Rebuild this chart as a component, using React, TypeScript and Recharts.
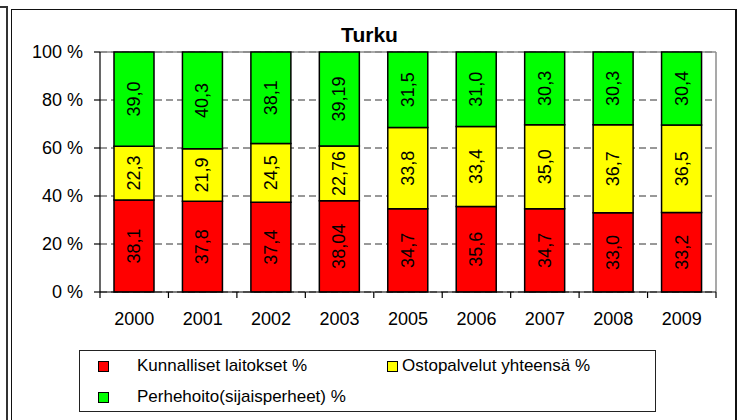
import { Bar, BarChart, CartesianGrid, LabelList, Legend, XAxis, YAxis, usePlotArea } from 'recharts';

const years = ['2000', '2001', '2002', '2003', '2005', '2006', '2007', '2008', '2009'];
const kunnalliset = ['38,1', '37,8', '37,4', '38,04', '34,7', '35,6', '34,7', '33,0', '33,2'];
const ostopalvelut = ['22,3', '21,9', '24,5', '22,76', '33,8', '33,4', '35,0', '36,7', '36,5'];
const perhehoito = ['39,0', '40,3', '38,1', '39,19', '31,5', '31,0', '30,3', '30,3', '30,4'];
const yTicks = [0, 20, 40, 60, 80, 100];

const series = [
  { key: 'kunnalliset', name: 'Kunnalliset laitokset %', color: '#ff0000' },
  { key: 'ostopalvelut', name: 'Ostopalvelut yhteensä %', color: '#ffff00' },
  { key: 'perhehoito', name: 'Perhehoito(sijaisperheet) %', color: '#00ff00' },
];

const num = (s: string) => parseFloat(s.replace(',', '.'));

const data = years.map((year, i) => ({
  year,
  kunnalliset: num(kunnalliset[i]),
  ostopalvelut: num(ostopalvelut[i]),
  perhehoito: num(perhehoito[i]),
  kunnallisetLabel: kunnalliset[i],
  ostopalvelutLabel: ostopalvelut[i],
  perhehoitoLabel: perhehoito[i],
}));

const FONT = '"Liberation Sans", Arial, sans-serif';

function VerticalLabel(props: any) {
  const { x, y, width, height, value } = props;
  const cx = x + width / 2;
  const cy = y + height / 2;
  return (
    <text
      x={cx}
      y={cy}
      transform={`rotate(-90 ${cx} ${cy})`}
      textAnchor="middle"
      dominantBaseline="central"
      fontSize={18}
      fontFamily={FONT}
      fill="#000"
    >
      {value}
    </text>
  );
}

// plot frame (grey top/right edges) and the category boundary ticks
function PlotFrame() {
  const area = usePlotArea();
  if (!area) return null;
  const { x, y, width, height } = area;
  const band = width / years.length;
  const bottom = y + height;
  return (
    <g>
      <line x1={x} y1={y} x2={x + width} y2={y} stroke="#8c8c8c" strokeWidth={1.5} />
      <line x1={x + width} y1={y} x2={x + width} y2={bottom} stroke="#8c8c8c" strokeWidth={1.5} />
      {[...years, ''].map((_, i) => (
        <line key={i} x1={x + band * i} y1={bottom} x2={x + band * i} y2={bottom + 6} stroke="#000" strokeWidth={1.2} />
      ))}
    </g>
  );
}

function LegendBox() {
  const item = (s: typeof series[number], left: number, top: number, textLeft: number) => (
    <div key={s.key} style={{ position: 'absolute', left, top, display: 'flex', alignItems: 'center' }}>
      <span style={{ display: 'inline-block', width: 9, height: 9, background: s.color, border: '1.5px solid #000' }} />
      <span style={{ marginLeft: textLeft, fontSize: 17, fontFamily: FONT, color: '#000', whiteSpace: 'nowrap' }}>{s.name}</span>
    </div>
  );
  return (
    <div style={{ position: 'relative', width: 577, height: 62, border: '1.5px solid #222', boxSizing: 'border-box', background: '#fff' }}>
      {item(series[0], 18, 5, 28)}
      {item(series[1], 307, 5, 4)}
      {item(series[2], 18, 36, 28)}
    </div>
  );
}

export default function App() {
  return (
    <div style={{ position: 'absolute', left: 0, top: 0, width: 739, height: 420, overflow: 'hidden', background: '#fff', fontFamily: FONT }}>
      <div style={{ position: 'absolute', left: 0, top: 6, width: 6, height: 420, borderTop: '2px solid #333', borderRight: '2px solid #333' }} />
      <div style={{ position: 'absolute', left: 11, top: 9, width: 723, height: 430, border: '1.5px solid #111', borderRightWidth: 2 }} />
      <div style={{ position: 'absolute', left: 0, top: 23, width: 739, textAlign: 'center', fontSize: 21, fontWeight: 'bold', color: '#000' }}>
        Turku
      </div>
      <div style={{ position: 'absolute', left: 0, top: 0 }}>
        <BarChart
          width={739}
          height={420}
          data={data}
          stackOffset="expand"
          margin={{ top: 52, right: 23, left: 0, bottom: 98 }}
        >
          <CartesianGrid vertical={false} stroke="#333" strokeDasharray="7 4" />
          <PlotFrame />
          <XAxis
            dataKey="year"
            height={30}
            tickLine={false}
            tickSize={0}
            tickMargin={20}
            axisLine={{ stroke: '#000', strokeWidth: 1.2 }}
            tick={{ fill: '#000', fontSize: 18, fontFamily: FONT }}
          />
          <YAxis
            width={100}
            domain={[0, 1]}
            ticks={yTicks.map((t) => t / 100)}
            tickFormatter={(v: number) => `${Math.round(v * 100)} %`}
            tickSize={6}
            tickMargin={11}
            axisLine={{ stroke: '#000', strokeWidth: 1.2 }}
            tickLine={{ stroke: '#000', strokeWidth: 1.2 }}
            tick={{ fill: '#000', fontSize: 18, fontFamily: FONT }}
          />
          <Legend
            layout="horizontal"
            verticalAlign="middle"
            align="center"
            content={() => <LegendBox />}
            wrapperStyle={{ left: 79, top: 350, width: 577, height: 62 }}
          />
          {series.map((s) => (
            <Bar
              key={s.key}
              dataKey={s.key}
              name={s.name}
              stackId="a"
              fill={s.color}
              stroke="#000"
              strokeWidth={1.5}
              barSize={40}
              isAnimationActive={false}
            >
              <LabelList dataKey={`${s.key}Label`} content={VerticalLabel} />
            </Bar>
          ))}
        </BarChart>
      </div>
    </div>
  );
}
